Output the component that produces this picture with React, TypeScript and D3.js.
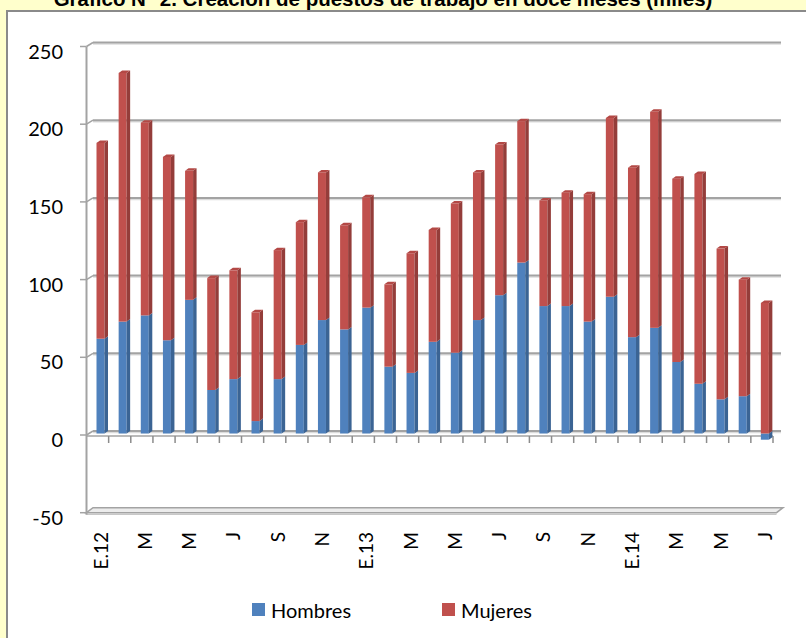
import React from 'react';
import * as d3 from 'd3';

// months Jan 2012 .. Jul 2014
const months = ['E.12', 'F', 'M', 'A', 'M', 'J', 'J', 'A', 'S', 'O', 'N', 'D',
  'E.13', 'F', 'M', 'A', 'M', 'J', 'J', 'A', 'S', 'O', 'N', 'D',
  'E.14', 'F', 'M', 'A', 'M', 'J', 'J'];
const hombres = [61, 72, 76, 60, 86, 28, 35, 8, 35, 57, 73, 67, 81, 43, 39, 59, 52, 73, 89, 110,
  82, 82, 72, 88, 62, 68, 46, 32, 22, 24, -4];
const mujeres = [126, 160, 124, 118, 83, 72, 70, 70, 83, 79, 95, 67, 71, 53, 77, 72, 96, 95, 97, 91,
  68, 73, 82, 115, 109, 139, 118, 135, 97, 75, 84];
const yTicks = [-50, 0, 50, 100, 150, 200, 250];
const series = ['Hombres', 'Mujeres'];
const colors = { Hombres: '#4F81BD', Mujeres: '#C0504D' };
const sides = { Hombres: '#3B6494', Mujeres: '#943D3A' };
const caps = { Hombres: '#5B8BC4', Mujeres: '#B34845' };

const title = 'Gráfico N° 2. Creación de puestos de trabajo en doce meses (miles)';
const font = 'Lato, "Open Sans", sans-serif';

// 3d depth offset
const DX = 6.5;
const DY = 4;

export default function App() {
  const W = 806;
  const H = 638;
  const x = d3.scaleBand<number>().domain(d3.range(months.length)).range([86.5, 773]);
  // back wall scale
  const yGrid = d3.scaleLinear().domain([-50, 250]).range([508.7, 42.5]);
  // bar scale (front face sits a bit in front of the wall)
  const yBar = d3.scaleLinear().domain([0, 250]).range([433.5, 433.5 - 250 * 1.554]);
  const bw = 8;
  const sdx = 3.5;
  const sdy = 2.5;

  const segment = (key: string, i: number, v0: number, v1: number, top: boolean) => {
    const x0 = (x(i) as number) + 10;
    const ya = yBar(Math.max(v0, v1));
    const yb = yBar(Math.min(v0, v1));
    return (
      <g key={key + i}>
        <rect x={x0} y={ya} width={bw} height={yb - ya} fill={colors[key]} />
        <polygon
          points={`${x0 + bw},${ya} ${x0 + bw + sdx},${ya - sdy} ${x0 + bw + sdx},${yb - sdy} ${x0 + bw},${yb}`}
          fill={sides[key]}
        />
        {top && (
          <polygon
            points={`${x0},${ya} ${x0 + sdx},${ya - sdy} ${x0 + bw + sdx},${ya - sdy} ${x0 + bw},${ya}`}
            fill={caps[key]}
          />
        )}
      </g>
    );
  };

  return (
    <svg width={W} height={H} style={{ position: 'absolute', left: 0, top: 0, display: 'block' }}>
      <rect x={0} y={0} width={W} height={H} fill="#FFFFCC" />
      {/* title is cut at the top edge, as in the source */}
      <text x={383} y={6} textAnchor="middle" fontFamily='"Liberation Sans", Arial, sans-serif'
        fontWeight="bold" fontSize={20.5} fill="#000">{title}</text>
      <rect x={7} y={11} width={W} height={H} fill="#fff" stroke="#8a8a8a" strokeWidth={2} />

      {/* gridlines on back wall */}
      {yTicks.filter(t => t > -50).map(t => (
        <g key={'g' + t}>
          <line x1={86.5 + DX} x2={781} y1={yGrid(t) + 1.5} y2={yGrid(t) + 1.5} stroke="#dcdcdc" strokeWidth={1.5} />
          <line x1={86.5 + DX} x2={781} y1={yGrid(t)} y2={yGrid(t)} stroke="#a3a3a3" strokeWidth={2} />
          <line x1={86.5} x2={86.5 + DX} y1={yGrid(t) + DY} y2={yGrid(t)} stroke="#a3a3a3" strokeWidth={1.5} />
        </g>
      ))}

      {/* floor slab at -50 */}
      <polygon
        points={`86.5,${yGrid(-50) + DY} ${86.5 + DX},${yGrid(-50) - 1} 783,${yGrid(-50) - 1} ${776.5},${yGrid(-50) + DY}`}
        fill="#ececec" stroke="#a3a3a3" strokeWidth={1.5}
      />
      <line x1={86.5} x2={776.5} y1={yGrid(-50) + DY + 1.5} y2={yGrid(-50) + DY + 1.5} stroke="#c8c8c8" strokeWidth={1.5} />

      {/* vertical axis */}
      <line x1={86.5} x2={86.5} y1={yGrid(250) + DY} y2={yGrid(-50) + DY + 2} stroke="#a3a3a3" strokeWidth={2} />
      {yTicks.map(t => (
        <g key={'t' + t}>
          <line x1={80} x2={86.5} y1={yGrid(t) + DY} y2={yGrid(t) + DY} stroke="#a3a3a3" strokeWidth={1.5} />
          <text x={63} y={yGrid(t) + DY + 4} textAnchor="end" dominantBaseline="central"
            fontFamily={font} fontSize={20} fill="#000">{t}</text>
        </g>
      ))}

      {/* front category axis at 0 */}
      <line x1={86.5} x2={773} y1={yGrid(0) + DY + 1} y2={yGrid(0) + DY + 1} stroke="#a3a3a3" strokeWidth={1.5} />
      {months.map((_, i) => (
        <line key={'ct' + i} x1={(x(i) as number) + x.step()} x2={(x(i) as number) + x.step()}
          y1={yGrid(0) + DY + 1} y2={yGrid(0) + DY + 8} stroke="#8c8c8c" strokeWidth={1.5} />
      ))}

      {/* bars */}
      {months.map((_, i) => {
        const h = hombres[i];
        const m = mujeres[i];
        if (h >= 0) {
          return (
            <g key={'b' + i}>
              {segment('Hombres', i, 0, h, false)}
              {segment('Mujeres', i, h, h + m, true)}
            </g>
          );
        }
        return (
          <g key={'b' + i}>
            {segment('Hombres', i, h, 0, false)}
            {segment('Mujeres', i, 0, m, true)}
          </g>
        );
      })}

      {/* category labels */}
      {months.map((mo, i) => (i % 2 === 0 ? (
        <text key={'l' + i} transform={`translate(${(x(i) as number) + 13.5},532) rotate(-90)`}
          textAnchor="end" dominantBaseline="central" fontFamily={font} fontSize={19} fill="#000">{mo}</text>
      ) : null))}

      {/* legend */}
      {series.map((s, k) => {
        const lx = k === 0 ? 252 : 442;
        return (
          <g key={s}>
            <rect x={lx} y={603} width={13} height={13} fill={colors[s]} />
            <text x={lx + 19} y={610} dominantBaseline="central" fontFamily={font} fontSize={20} fill="#000">{s}</text>
          </g>
        );
      })}
    </svg>
  );
}
